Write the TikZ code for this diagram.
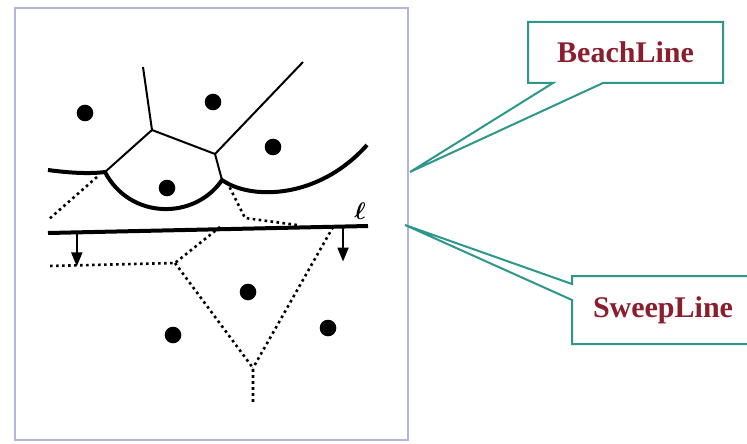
\documentclass[tikz,border=0pt]{standalone}
\usepackage{fontspec}
\usepackage{amsmath,bm}
\setmainfont{Liberation Serif}
\usetikzlibrary{arrows.meta,calc,shapes.callouts}
\definecolor{framecol}{HTML}{B4B4E4}
\definecolor{calloutcol}{HTML}{2E978C}
\definecolor{labelcol}{HTML}{8B1E2E}

\begin{document}
\begin{tikzpicture}[x=0.5pt,y=-0.5pt,
  site/.style={circle,fill=black,minimum size=8.3pt,inner sep=0pt},
  edge/.style={line width=1pt},
  beach/.style={line width=2pt},
  sweep/.style={line width=2pt},
  trace/.style={line width=1.3pt,dash pattern=on 1.3pt off 1.7pt},
  drop/.style={line width=1pt,-{Triangle[length=7pt,width=5.5pt]}},
  callbox/.style={rectangle callout,draw=calloutcol,fill=white,
    line width=1pt,text=labelcol,font=\fontsize{15}{15}\selectfont\bfseries}
]
\useasboundingbox (0,0) rectangle (747,443);
\draw[framecol,line width=1pt] (15,8) rectangle (408,440);
% sites
\node[site] (p1) at (85,113) {};
\node[site] (p2) at (213,102) {};
\node[site] (p3) at (273,147) {};
\node[site] (p4) at (167,188) {};
\node[site] (p5) at (248,292) {};
\node[site] (p6) at (173,335) {};
\node[site] (p7) at (328,328) {};
% voronoi vertices and breakpoints
\coordinate (v1) at (152,130);
\coordinate (v2) at (215,154);
\coordinate (up1) at (143,67);
\coordinate (up2) at (303,62);
\coordinate (b1) at (105,172);
\coordinate (b2) at (222,180);
\draw[edge] (up1) -- (v1) -- (v2) -- (up2);
\draw[edge] (v1) -- (b1);
\draw[edge] (v2) -- (b2);
% beach line
\draw[beach] (48,170) .. controls (70,173) and (90,174) .. (b1)
  .. controls (130,220) and (195,220) .. (b2)
  .. controls (250,200) and (318,200) .. (367,145);
% sweep line
\coordinate (sL) at (48,233);
\coordinate (sR) at (368,226);
\draw[sweep] (sL) -- (sR);
\node[font=\fontsize{13}{13}\selectfont] (ell) at (360,211) {$\bm{\ell}$};
\coordinate (s1) at ($(sL)!0.09!(sR)$);
\coordinate (s2) at ($(sL)!0.922!(sR)$);
\draw[drop] (s1) -- ++(0,34);
\draw[drop] (s2) -- ++(0,35);
% future edges
\coordinate (w1) at (175,263);
\coordinate (w2) at (253,368);
\coordinate (w3) at (245,218);
\draw[trace] (97,177) -- (48,220);
\draw[trace] (227,182) -- (w3) -- (297,225);
\draw[trace] (220,227) -- (w1) -- (49,266);
\draw[trace] (w1) -- (w2) -- (253,402);
\draw[trace] (333,227) -- (w2);
% callouts
\coordinate (beachtip) at (410,172);
\coordinate (sweeptip) at (405,225);
\node[callbox,minimum width=97.5pt,minimum height=30.5pt,
  callout absolute pointer={(beachtip)},callout pointer width=25pt]
  (beachbox) at (625.5,52.5) {BeachLine};
\node[callbox,minimum width=91pt,minimum height=34pt,
  callout absolute pointer={(sweeptip)},callout pointer width=8pt]
  (sweepbox) at (663,310) {SweepLine};
\end{tikzpicture}
\end{document}
